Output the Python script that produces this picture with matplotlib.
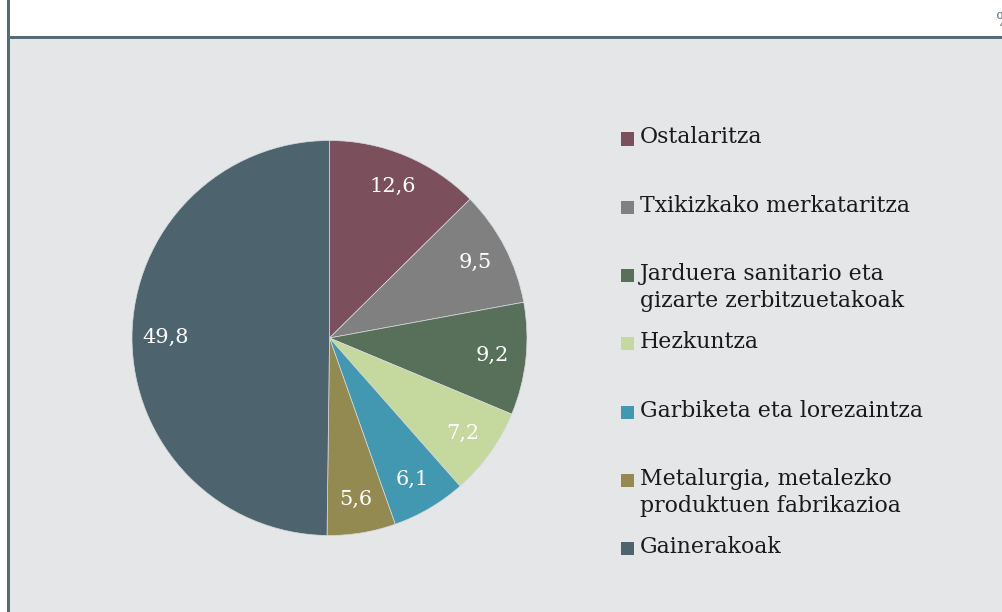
import matplotlib.pyplot as plt
from matplotlib.patches import Rectangle

# Sector shares (%)
labels = ["Ostalaritza",
          "Txikizkako merkataritza",
          "Jarduera sanitario eta\ngizarte zerbitzuetakoak",
          "Hezkuntza",
          "Garbiketa eta lorezaintza",
          "Metalurgia, metalezko\nproduktuen fabrikazioa",
          "Gainerakoak"]
values = [12.6, 9.5, 9.2, 7.2, 6.1, 5.6, 49.8]
colors = ["#7b4f5c", "#808080", "#58705a", "#c5d89e", "#4298b0", "#938a52", "#4d646e"]

W, H = 1002, 612
bg = "#e5e6e8"
frame = "#536c76"
font = ["DejaVu Serif"]

fig = plt.figure(figsize=(W / 100, H / 100), dpi=100, facecolor="white")

def px(x, y):
    return x / W, 1 - y / H

# grey panel, top rule and left rule
fig.patches.append(Rectangle((10 / W, 0), 1, 1 - 39 / H, transform=fig.transFigure,
                             facecolor=bg, edgecolor="none", zorder=-2))
fig.patches.append(Rectangle((7 / W, 1 - 39 / H), 1, 3 / H, transform=fig.transFigure,
                             facecolor=frame, edgecolor="none", zorder=-1))
fig.patches.append(Rectangle((7 / W, 0), 3 / W, 1, transform=fig.transFigure,
                             facecolor=frame, edgecolor="none", zorder=-1))
fig.text(*px(996, 21), "%", ha="left", va="center", fontsize=13,
         color="#6b7a82", family=font)

# pie
cx, cy, r = 329.5, 338, 197.5
ax = fig.add_axes([(cx - r) / W, 1 - (cy + r) / H, 2 * r / W, 2 * r / H])
ax.set_zorder(2)
ax.set_facecolor("none")
wedges, texts, autotexts = ax.pie(
    values, colors=colors, startangle=90, counterclock=False, radius=1,
    autopct=lambda p: f"{p:.1f}".replace(".", ","), pctdistance=0.83,
    wedgeprops=dict(edgecolor="#d8dadc", linewidth=0.5),
    textprops=dict(color="white", fontsize=15, family=font))
ax.set_xlim(-1, 1)
ax.set_ylim(-1, 1)
ax.set_aspect("equal")
ax.axis("off")

# legend drawn by hand: square aligned with first text line
top = 139
step = 68.33
for i, (lab, col) in enumerate(zip(labels, colors)):
    y = top + i * step
    fig.patches.append(Rectangle((621 / W, 1 - (y + 6.5) / H), 13 / W, 13 / H,
                                 transform=fig.transFigure, facecolor=col,
                                 edgecolor="none"))
    fig.text(640 / W, 1 - (y - 12.5) / H, lab, ha="left", va="top", fontsize=15.8,
             color="#1a1a1a", family=font, linespacing=1.3)

fig.savefig("out.png", dpi=100, facecolor="white")
